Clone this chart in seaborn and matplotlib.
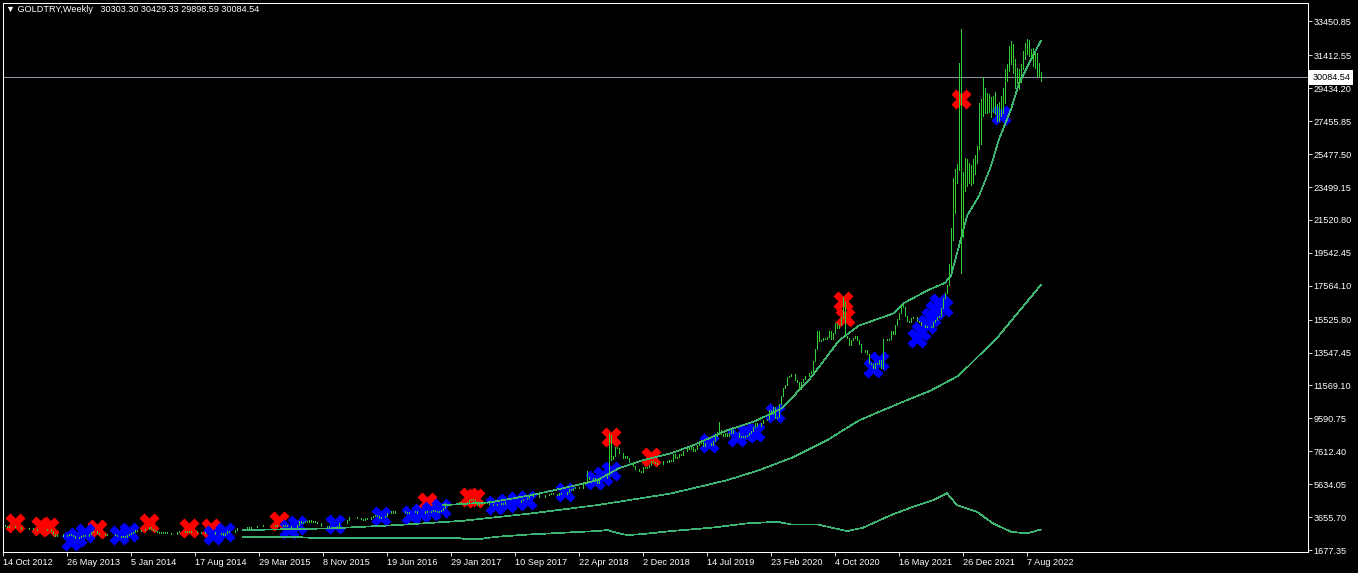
#!/usr/bin/env python3
"""GOLDTRY weekly bars in MetaTrader look, redrawn with seaborn / matplotlib."""

import numpy as np
import pandas as pd
import matplotlib
matplotlib.use('Agg')
import matplotlib.pyplot as plt
import seaborn as sns

symbol = 'GOLDTRY,Weekly'
first_week = '2012-10-14'

# weekly closes, one per bar (32 bars per row block = one x label step)
closes = [
    3170, 3120, 3080, 3140, 3130, 3120, 3080, 3040, 3040, 2960, 2960, 2960, 2950, 2980, 2990, 2950,
    2960, 2890, 2850, 2860, 2860, 2880, 2910, 2910, 2840, 2650, 2540, 2630, 2630, 2610, 2520, 2520,
    2570, 2620, 2600, 2510, 2370, 2380, 2480, 2500, 2560, 2530, 2520, 2660, 2750, 2840, 2800, 2670,
    2660, 2660, 2650, 2560, 2630, 2660, 2620, 2620, 2600, 2510, 2500, 2480, 2540, 2480, 2560, 2640,
    2700, 2750, 2860, 2820, 2790, 2880, 2900, 2940, 2960, 3050, 2950, 2880, 2800, 2770, 2720, 2760,
    2720, 2730, 2700, 2710, 2630, 2610, 2650, 2780, 2800, 2800, 2810, 2730, 2790, 2780, 2820, 2810,
    2790, 2780, 2740, 2710, 2710, 2760, 2740, 2740, 2770, 2750, 2620, 2620, 2650, 2680, 2600, 2700,
    2800, 2750, 2730, 2780, 2870, 2980, 3010, 3000, 2990, 2980, 3050, 3010, 3060, 3050, 3080, 3120,
    3130, 3130, 3180, 3200, 3200, 3170, 3180, 3170, 3140, 3200, 3200, 3210, 3150, 3160, 3130, 3110,
    3070, 3080, 3090, 3190, 3400, 3330, 3360, 3410, 3360, 3460, 3380, 3430, 3370, 3300, 3280, 3140,
    3130, 3100, 3090, 3150, 3130, 3140, 3140, 3090, 3290, 3290, 3290, 3330, 3500, 3660, 3650, 3640,
    3660, 3630, 3620, 3540, 3510, 3580, 3550, 3560, 3680, 3700, 3760, 3720, 3620, 3660, 3680, 3720,
    3900, 3920, 4000, 3930, 4020, 4040, 4030, 4030, 4010, 3990, 3930, 3980, 3940, 3970, 4000, 3880,
    3890, 3920, 3910, 4050, 3940, 3960, 4010, 4060, 4030, 3960, 4000, 4060, 4200, 4520, 4480, 4500,
    4530, 4500, 4520, 4520, 4540, 4500, 4490, 4520, 4570, 4700, 4770, 4690, 4520, 4380, 4420, 4500,
    4490, 4540, 4480, 4430, 4450, 4390, 4410, 4440, 4470, 4500, 4470, 4570, 4560, 4540, 4590, 4580,
    4550, 4560, 4590, 4660, 4760, 4760, 4830, 4910, 4950, 5100, 5070, 5030, 4840, 4850, 4860, 4970,
    5000, 5050, 5090, 5050, 5050, 4990, 5100, 5060, 5060, 5060, 5150, 5340, 5270, 5420, 5490, 5470,
    5380, 5420, 5620, 5730, 6050, 5930, 5940, 5990, 5860, 5730, 6030, 6000, 6010, 5990, 6190, 7790,
    7150, 7300, 7860, 7810, 7500, 7500, 7200, 7300, 7220, 6950, 6950, 6730, 6570, 6550, 6450, 6380,
    6650, 6630, 6670, 6810, 7030, 6990, 6900, 6850, 6850, 6870, 7010, 7040, 6970, 7090, 7040, 7440,
    7220, 7290, 7440, 7410, 7640, 7600, 7780, 7750, 7840, 7610, 7740, 7960, 8120, 8160, 7950, 8100,
    8090, 8090, 8020, 8260, 8530, 8800, 8900, 8650, 8560, 8700, 8560, 8700, 8880, 8700, 8700, 8700,
    8480, 8520, 8450, 8520, 8600, 8720, 8850, 9050, 9300, 9140, 9160, 9320, 9500, 9470, 9580, 10100,
    9860, 10260, 9640, 9700, 10460, 10940, 11440, 11610, 12090, 12150, 12230, 12250, 11880, 11800, 11380, 11800,
    11940, 12150, 12150, 12320, 12420, 13050, 13770, 14860, 14270, 14300, 14440, 14370, 14490, 14820, 14370, 14740,
    15300, 15010, 15180, 15690, 16640, 14540, 14440, 13980, 14310, 14440, 14520, 14300, 14080, 13600, 13600, 13700,
    13490, 12930, 12840, 12610, 12900, 12840, 13110, 12620, 14350, 14340, 14280, 14390, 14840, 14680, 15200, 15590,
    15950, 16380, 16310, 15770, 15470, 15400, 15620, 15690, 15670, 15440, 15360, 15200, 15220, 15100, 15170, 15160,
    15070, 15390, 15520, 15660, 15740, 16210, 16800, 17120, 17630, 18870, 20800, 22540, 24530, 24690, 29490, 21000,
    24300, 24900, 24700, 24800, 24000, 24300, 25200, 25800, 26150, 28100, 29200, 28400, 29000, 28300, 28700, 28800,
    28500, 28100, 28400, 28000, 29250, 30000, 30500, 31800, 31830, 31200, 30250, 30140, 29790, 30830, 31500, 31860,
    32350, 31370, 31460, 31160, 31330, 30650, 30303.30, 30084.54,
]

# single bars with a wick that stands out (low, high)
wick_dates = ['2018-05-20', '2018-08-05', '2018-08-12', '2019-08-25', '2020-11-01']
wick_lows = [5700, 6180, 7100, 8750, 15600]
wick_highs = [6400, 8690, 8600, 9370, 16900]

# full low / high for the volatile end of the chart, one per week
recent_start = '2021-11-07'
recent_lows = [
    17600, 18600, 20300, 21940, 23740, 24500, 18350, 20500, 23260, 23560, 23740, 23600,
    23740, 24300, 24940, 25960, 26100, 27760, 27940, 27940, 28000, 27700, 28000, 27900,
    27460, 27460, 27760, 27940, 28540, 29860, 30570, 30870, 30330, 29430, 29730, 29370,
    30330, 30570, 31170, 31470, 31350, 31170, 30750, 30630, 30150, 30150, 29898.59,
]
recent_highs = [
    18900, 21040, 24040, 24580, 24880, 30930, 33000, 24400, 25240, 25180, 24940, 24580,
    25180, 25400, 25960, 28540, 28780, 30100, 29430, 29130, 29100, 28900, 29000, 29200,
    28480, 28600, 28960, 29430, 30570, 30870, 31990, 32300, 32070, 30750, 30630, 30570,
    30870, 31650, 32130, 32370, 32250, 31770, 31830, 31530, 31530, 30930, 30429.33,
]

# indicator lines
fast_ma_dates = ['2017-01-01', '2017-06-18', '2017-11-05', '2018-02-25', '2018-06-24', '2018-09-09',
                 '2018-12-02', '2019-03-10', '2019-05-26', '2019-09-22', '2020-01-05', '2020-04-05',
                 '2020-07-12', '2020-10-18', '2020-12-27', '2021-04-25', '2021-05-30', '2021-08-22',
                 '2021-10-24', '2021-11-14', '2021-12-12', '2022-01-09', '2022-02-20', '2022-04-03',
                 '2022-05-01', '2022-06-12', '2022-07-10', '2022-08-21', '2022-09-25']
fast_ma_values = [4370, 4550, 4970, 5390, 5870, 6590, 7070, 7490, 7970, 8870, 9470, 10250,
                  12050, 14270, 15170, 15890, 16490, 17270, 17740, 18170, 19960, 21760, 22960, 24760,
                  26380, 28170, 29730, 31170, 32310]

slow_ma_dates = ['2015-02-01', '2015-12-06', '2016-07-24', '2017-03-12', '2017-11-05', '2018-06-24',
                 '2019-03-10', '2019-09-22', '2020-01-12', '2020-05-10', '2020-09-06', '2020-12-27',
                 '2021-05-16', '2021-09-05', '2021-12-12', '2022-05-01', '2022-09-25']
slow_ma_values = [2876, 2977, 3175, 3435, 3875, 4375, 5075, 5874, 6473, 7252, 8272, 9470,
                  10490, 11270, 12170, 14570, 17620]

lower_dates = ['2015-02-01', '2015-08-16', '2015-09-06', '2017-02-26', '2017-03-19', '2017-04-30',
               '2017-07-09', '2017-11-05', '2018-02-25', '2018-06-24', '2018-07-29', '2018-09-02',
               '2018-10-07', '2018-12-02', '2019-03-10', '2019-07-28', '2019-12-01', '2020-03-15',
               '2020-05-03', '2020-08-02', '2020-11-15', '2021-01-10', '2021-04-18', '2021-07-04',
               '2021-09-12', '2021-10-31', '2021-11-07', '2021-12-05', '2022-02-13', '2022-04-10',
               '2022-06-12', '2022-08-07', '2022-09-25']
lower_values = [2456, 2456, 2420, 2400, 2320, 2320, 2475, 2617, 2715, 2816, 2876, 2715,
                2576, 2636, 2816, 3014, 3278, 3374, 3218, 3218, 2816, 3014, 3776, 4270,
                4675, 5094, 4950, 4375, 3975, 3278, 2776, 2675, 2915]

# signal arrows
sell_dates = ['2012-11-25', '2013-02-24', '2013-03-24', '2013-09-08', '2014-03-09', '2014-07-27',
              '2014-10-12', '2015-06-07', '2016-11-06', '2017-04-02', '2017-04-23', '2018-08-12',
              '2018-12-30', '2020-11-01', '2020-11-08', '2021-12-19']
sell_values = [3300, 3120, 3060, 2940, 3300, 3000, 3000, 3420, 4560, 4860, 4800, 8450,
               7250, 16670, 15700, 28780]

buy_dates = ['2013-06-09', '2013-06-30', '2013-07-28', '2013-11-24', '2013-12-29', '2014-10-19',
             '2014-11-30', '2015-07-12', '2015-08-09', '2015-12-20', '2016-05-29', '2016-09-11',
             '2016-10-16', '2016-11-20', '2016-12-25', '2017-07-02', '2017-08-13', '2017-09-17',
             '2017-10-22', '2018-03-04', '2018-06-17', '2018-07-15', '2018-08-12', '2019-07-21',
             '2019-10-27', '2019-12-01', '2019-12-29', '2020-03-08', '2021-02-14', '2021-03-07',
             '2021-07-18', '2021-08-01', '2021-08-22', '2021-09-05', '2021-09-19', '2021-10-03',
             '2021-10-17', '2022-05-08']
buy_values = [2220, 2460, 2700, 2580, 2760, 2580, 2760, 2940, 3180, 3240, 3720, 3780,
              3900, 4020, 4200, 4380, 4500, 4620, 4680, 5160, 5880, 6110, 6410, 8090,
              8450, 8690, 8750, 9890, 12590, 13070, 14450, 14870, 15290, 15710, 16130, 16550,
              16310, 27820]

x_labels = ['14 Oct 2012', '26 May 2013', '5 Jan 2014', '17 Aug 2014', '29 Mar 2015', '8 Nov 2015',
            '19 Jun 2016', '29 Jan 2017', '10 Sep 2017', '22 Apr 2018', '2 Dec 2018', '14 Jul 2019',
            '23 Feb 2020', '4 Oct 2020', '16 May 2021', '26 Dec 2021', '7 Aug 2022']
y_labels = ['1677.35', '3655.70', '5634.05', '7612.40', '9590.75', '11569.10', '13547.45',
            '15525.80', '17564.10', '19542.45', '21520.80', '23499.15', '25477.50', '27455.85',
            '29434.20', '31412.55', '33450.85']

BAR = '#32cd32'
MA = '#3cb371'
FONT = ['Liberation Sans', 'DejaVu Sans']

start = pd.Timestamp(first_week)


def week_pos(dates, fmt=None):
    """Bar position (weeks since the first bar) for a list of dates."""
    d = pd.to_datetime(pd.Series(dates), format=fmt)
    return ((d - start).dt.days / 7).to_numpy()


# --- OHLC ranges ---------------------------------------------------------
close = np.array(closes, dtype=float)
n = len(close)
open_ = np.r_[close[0], close[:-1]]
low = np.minimum(open_, close)
high = np.maximum(open_, close)
for pos, lo, hi in zip(week_pos(wick_dates).astype(int), wick_lows, wick_highs):
    low[pos] = min(low[pos], lo)
    high[pos] = max(high[pos], hi)
r0 = int(week_pos([recent_start])[0])
idx = np.arange(r0, r0 + len(recent_lows))
low[idx] = np.minimum(low[idx], recent_lows)
high[idx] = np.maximum(high[idx], recent_highs)

# --- figure --------------------------------------------------------------
sns.set_style('dark')
plt.rcParams['font.family'] = FONT

W, H = 1358, 573
fig = plt.figure(figsize=(W / 100, H / 100), dpi=100, facecolor='black')
ax = fig.add_axes([2.5 / W, (H - 551.5) / H, 1305 / W, 549 / H])
ax.set_facecolor('black')
ax.grid(False)

x = np.arange(n)

# current price line
ax.axhline(close[-1], color='#8a98a6', lw=0.6, zorder=1, antialiased=False)

# signal crosses
sns.scatterplot(x=week_pos(sell_dates), y=sell_values, marker='X', s=210,
                color='#ff0000', linewidth=0, ax=ax, zorder=2, legend=False)
sns.scatterplot(x=week_pos(buy_dates), y=buy_values, marker='X', s=210,
                color='#0000ff', linewidth=0, ax=ax, zorder=2, legend=False)

# indicator lines
for dates, vals in [(lower_dates, lower_values), (slow_ma_dates, slow_ma_values),
                    (fast_ma_dates, fast_ma_values)]:
    sns.lineplot(x=week_pos(dates), y=vals, color=MA, lw=0.5, ax=ax,
                 estimator=None, sort=False, zorder=3, antialiased=False)

# bars
bars = ax.vlines(x, low, high, colors=BAR, lw=0.55, zorder=4, antialiased=False)
bars.set_capstyle('projecting')

# --- axes ---------------------------------------------------------------
ax.set_xlim(-0.25, 652.25)
ax.set_ylim(1587.2, 34593)

ax.set_xticks(week_pos(x_labels, fmt='%d %b %Y'))
ax.set_xticklabels(x_labels, ha='left')
ax.yaxis.tick_right()
ax.set_yticks([float(v) for v in y_labels])
ax.set_yticklabels(y_labels, ha='left')
ax.tick_params(axis='x', bottom=True, direction='out', length=3, width=0.6,
               color='white', labelcolor='white', labelsize=6.6, pad=1.6)
ax.tick_params(axis='y', right=True, left=False, direction='out', length=3, width=0.6,
               color='white', labelcolor='white', labelsize=6.6, pad=1.2)
ax.set_xlabel('')
ax.set_ylabel('')
for spine in ax.spines.values():
    spine.set_visible(True)
    spine.set_color('white')
    spine.set_linewidth(0.75)

# current price tag on the scale
ax.annotate(f'{close[-1]:.2f}', xy=(1.0, close[-1]), xycoords=('axes fraction', 'data'),
            xytext=(3.4, 0), textcoords='offset points', ha='left', va='center',
            fontsize=6.6, color='black', annotation_clip=False, zorder=10,
            bbox=dict(boxstyle='square,pad=0.32', fc='white', ec='none'))

# header
header = (f'\u25bc {symbol}   {open_[-1]:.2f} {high[-1]:.2f} '
          f'{low[-1]:.2f} {close[-1]:.2f}')
fig.text(6 / W, 1 - 10 / H, header, ha='left', va='center', color='white',
         fontsize=6.6, family=FONT)

fig.savefig('out.png', dpi=100, facecolor='black')
